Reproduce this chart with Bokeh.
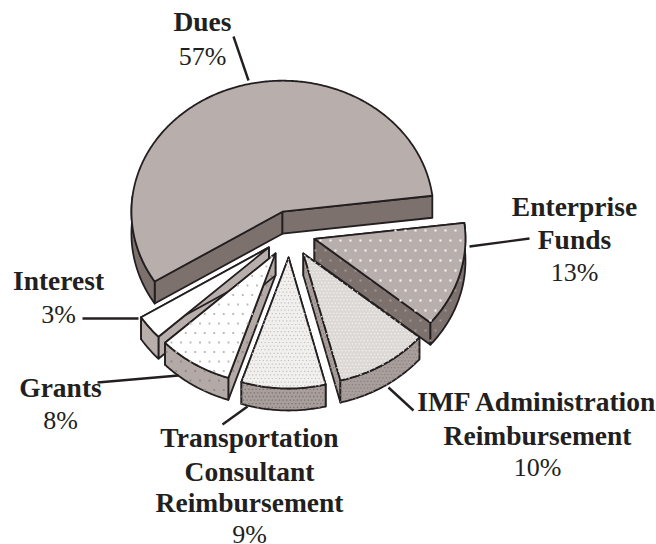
import numpy as np
from bokeh.plotting import figure
from bokeh.embed import file_html
from bokeh.resources import INLINE
from bokeh.core.properties import value

# ---- data ----
categories = ["Dues", "Enterprise Funds", "IMF Administration Reimbursement",
              "Transportation Consultant Reimbursement", "Grants", "Interest"]
shares = [57, 13, 10, 9, 8, 3]

# ---- styling ----
INK = "#231f20"
FONT = "Liberation Serif"
BOLD_SIZE = "27.5px"
REG_SIZE = "26px"
TEXT_DY = -8
CX, CY, RX, RY = 289, 231, 151, 131
DEPTH = 22
explode = [21, 26, 26, 26, 26, 26]
START = 212.2
top_fill = ["#b8aeab", "#b8aeab", "#dcd8d6", "#f2f0ef", "#ffffff", "#ffffff"]
side_fill = ["#7d716e", "#7d716e", "#a89e9b", "#a89e9b", "#b3a9a6", "#b8aeab"]
top_dots = [None, ("#f4f2f1", 10, 2.2), ("#f2f0ef", 3.4, 1.3), ("#c4bdba", 3.6, 1.2), ("#bdb5b2", 9.5, 1.8), None]
side_dots = [None, ("#a39a97", 10, 2.0), ("#8a7f7c", 3.4, 1.2), ("#7d716e", 3.6, 1.3), ("#93887f", 9.5, 1.8), None]
paint_order = [0, 1, 5, 2, 4, 3]

leaders = {
    "Dues": ((233, 36), (248, 80)),
    "Enterprise Funds": ((529, 238), (469, 246)),
    "IMF Administration Reimbursement": ((413, 410), (388, 387)),
    "Transportation Consultant Reimbursement": ((222, 424), (247, 406)),
    "Grants": ((97, 382), (178, 375)),
    "Interest": ((82, 318), (138, 318)),
}
labels = {
    "Dues": (202, [("Dues", 29)], 64),
    "Enterprise Funds": (574, [("Enterprise", 214), ("Funds", 247)], 280),
    "IMF Administration Reimbursement": (537, [("IMF Administration", 409), ("Reimbursement", 443)], 475),
    "Transportation Consultant Reimbursement": (249, [("Transportation", 445), ("Consultant", 479), ("Reimbursement", 510)], 542),
    "Grants": (60, [("Grants", 395)], 428),
    "Interest": (58, [("Interest", 288)], 322),
}

p = figure(width=656, height=544, x_range=(0, 656), y_range=(544, 0),
           toolbar_location=None, output_backend="svg", min_border=0,
           x_axis_type=None, y_axis_type=None, outline_line_color=None,
           background_fill_color="white", border_fill_color="white")
p.grid.visible = False
p.styles = {"position": "absolute", "left": "0px", "top": "0px"}


def inside(px, py, xs, ys):
    c = np.zeros(px.shape, dtype=bool)
    n = len(xs)
    for i in range(n):
        x1, y1, x2, y2 = xs[i], ys[i], xs[(i + 1) % n], ys[(i + 1) % n]
        if y1 == y2:
            continue
        hit = ((y1 > py) != (y2 > py)) & (px < (x2 - x1) * (py - y1) / (y2 - y1) + x1)
        c ^= hit
    return c


def texture(xs, ys, spec):
    if spec is None:
        return
    color, step, size = spec
    xs, ys = np.array(xs), np.array(ys)
    gx, gy = [], []
    rows = np.arange(0, 544, step)
    for i, y in enumerate(rows):
        row = np.arange(0 + (i % 2) * step / 2, 656, step)
        gx.append(row)
        gy.append(np.full(row.shape, y))
    gx, gy = np.concatenate(gx), np.concatenate(gy)
    keep = inside(gx, gy, xs, ys)
    p.scatter(gx[keep], gy[keep], marker="square", size=size, fill_color=color, line_color=None)


total = sum(shares)
spans = [s / total * 360 for s in shares]
cum = np.cumsum([0] + spans)

for i in paint_order:
    a0 = np.radians(START - cum[i])            # clockwise from the start angle
    a1 = np.radians(START - cum[i + 1])
    mid = (a0 + a1) / 2
    ax = CX + explode[i] * np.cos(mid)
    ay = CY - explode[i] * np.sin(mid)
    t = np.linspace(a0, a1, max(6, int(spans[i] * 1.5)))
    rimx = ax + RX * np.cos(t)
    rimy = ay - RY * np.sin(t)
    # radial walls
    for rx_, ry_ in ((rimx[0], rimy[0]), (rimx[-1], rimy[-1])):
        wx = [ax, rx_, rx_, ax]
        wy = [ay, ry_, ry_ + DEPTH, ay + DEPTH]
        p.patch(wx, wy, fill_color=side_fill[i], line_color=INK, line_width=1.8, line_join="round")
        texture(wx, wy, side_dots[i])
    # rim wall, only the front facing part
    front = np.sin(t) <= 0.12
    if front.any():
        fx, fy = rimx[front], rimy[front]
        wx = list(fx) + list(fx[::-1])
        wy = list(fy) + list(fy[::-1] + DEPTH)
        p.patch(wx, wy, fill_color=side_fill[i], line_color=INK, line_width=1.8, line_join="round")
        texture(wx, wy, side_dots[i])
    # top face
    tx = [ax] + list(rimx)
    ty = [ay] + list(rimy)
    p.patch(tx, ty, fill_color=top_fill[i], line_color=INK, line_width=1.8, line_join="round")
    texture(tx, ty, top_dots[i])

for cat, pct in zip(categories, shares):
    (x0, y0), (x1, y1) = leaders[cat]
    p.line([x0, x1], [y0, y1], line_color=INK, line_width=2.4)
    cx, bold_lines, pct_y = labels[cat]
    for txt, y in bold_lines:
        p.text([cx], [y + TEXT_DY], text=[txt], text_font=value(FONT), text_font_size=value(BOLD_SIZE),
               text_font_style="bold", text_align="center", text_baseline="alphabetic", text_color=INK)
    p.text([cx], [pct_y + TEXT_DY], text=[f"{pct}%"], text_font=value(FONT), text_font_size=value(REG_SIZE),
           text_align="center", text_baseline="alphabetic", text_color=INK)

open("out.html", "w").write(file_html(p, INLINE))
